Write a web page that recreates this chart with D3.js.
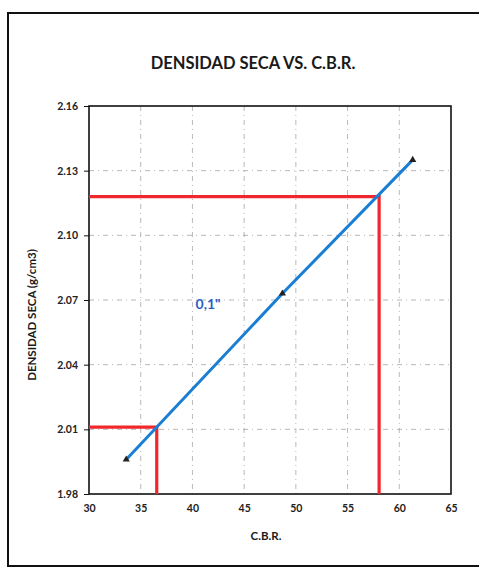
<!DOCTYPE html>
<html><head><meta charset="utf-8">
<script src="https://cdn.jsdelivr.net/npm/d3@7"></script>
<style>body{margin:0;background:#fff}</style>
</head><body>
<svg id="c" width="479" height="570"></svg>
<script>
const cbr = [33.6, 48.7, 61.3];
const density = [1.996, 2.073, 2.135];
const xTicks = [30, 35, 40, 45, 50, 55, 60, 65];
const yTicks = [1.98, 2.01, 2.04, 2.07, 2.10, 2.13, 2.16];
const upperGuide = {cbr: 58.05, density: 2.118};
const lowerGuide = {cbr: 36.55, density: 2.011};
const curveLabel = "0,1\"";

const svg = d3.select("#c");
const L = 89, R = 451, T = 106, B = 494;
const x = d3.scaleLinear().domain([30, 65]).range([L, R]);
const y = d3.scaleLinear().domain([1.98, 2.16]).range([B, T]);
const font = "Lato, 'Open Sans', sans-serif";

// outer frame
svg.append("rect").attr("x", 8).attr("y", 13).attr("width", 480).attr("height", 553)
  .attr("fill", "none").attr("stroke", "#111").attr("stroke-width", 2);

// title
svg.append("text").attr("x", 253).attr("y", 69).attr("text-anchor", "middle")
  .attr("font-family", font).attr("font-weight", "bold").attr("font-size", 16.5)
  .attr("fill", "#1a1a1a").text("DENSIDAD SECA VS. C.B.R.");

// grid
const g = svg.append("g");
g.selectAll("line.v").data(xTicks.slice(1, -1)).join("line")
  .attr("x1", d => x(d)).attr("x2", d => x(d)).attr("y1", T).attr("y2", B)
  .attr("stroke", "#999").attr("stroke-width", 0.7).attr("stroke-dasharray", "5,4,1,4");
g.selectAll("line.h").data(yTicks.slice(1, -1)).join("line")
  .attr("x1", L).attr("x2", R).attr("y1", d => y(d)).attr("y2", d => y(d))
  .attr("stroke", "#999").attr("stroke-width", 0.7).attr("stroke-dasharray", "5,4,1,4");

// axes
const xa = svg.append("g").attr("transform", `translate(0,${B})`)
  .call(d3.axisBottom(x).tickValues(xTicks).tickSize(0).tickPadding(11).tickFormat(d3.format("d")));
const ya = svg.append("g").attr("transform", `translate(${L},0)`)
  .call(d3.axisLeft(y).tickValues(yTicks).tickSize(5).tickPadding(6).tickFormat(d3.format(".2f")));
[xa, ya].forEach(a => {
  a.select(".domain").remove();
  a.selectAll("text").attr("font-family", font).attr("font-size", 10.5).attr("font-weight", "bold").attr("fill", "#222");
  a.selectAll("line").attr("stroke", "#111");
});

// plot border
svg.append("rect").attr("x", L).attr("y", T).attr("width", R - L).attr("height", B - T)
  .attr("fill", "none").attr("stroke", "#111").attr("stroke-width", 1.6);

// red guide lines
const red = "#f0282d";
[upperGuide, lowerGuide].forEach(gd => {
  svg.append("path")
    .attr("d", d3.line()([[x(30), y(gd.density)], [x(gd.cbr), y(gd.density)], [x(gd.cbr), y(1.98)]]))
    .attr("fill", "none").attr("stroke", red).attr("stroke-width", 3.2);
});

// blue line
const pts = cbr.map((c, i) => [x(c), y(density[i])]);
svg.append("path").attr("d", d3.line()(pts)).attr("fill", "none")
  .attr("stroke", "#1a7fd4").attr("stroke-width", 3);

// triangle markers
svg.selectAll("path.m").data(pts).join("path")
  .attr("d", d3.symbol().type(d3.symbolTriangle).size(22))
  .attr("transform", d => `translate(${d[0]},${d[1]})`).attr("fill", "#222");

// curve label
svg.append("text").attr("x", x(40.3)).attr("y", y(2.066)).attr("font-family", font)
  .attr("font-size", 14).attr("font-weight", "bold").attr("fill", "#2a5fc4").text(curveLabel);

// axis titles
svg.append("text").attr("x", 266).attr("y", 540).attr("text-anchor", "middle")
  .attr("font-family", font).attr("font-weight", "bold").attr("font-size", 11.5)
  .attr("fill", "#1a1a1a").text("C.B.R.");
svg.append("text").attr("transform", "translate(36,315) rotate(-90)").attr("text-anchor", "middle")
  .attr("font-family", font).attr("font-weight", "bold").attr("font-size", 11.5)
  .attr("fill", "#1a1a1a").text("DENSIDAD SECA (g/cm3)");
</script>
</body></html>
